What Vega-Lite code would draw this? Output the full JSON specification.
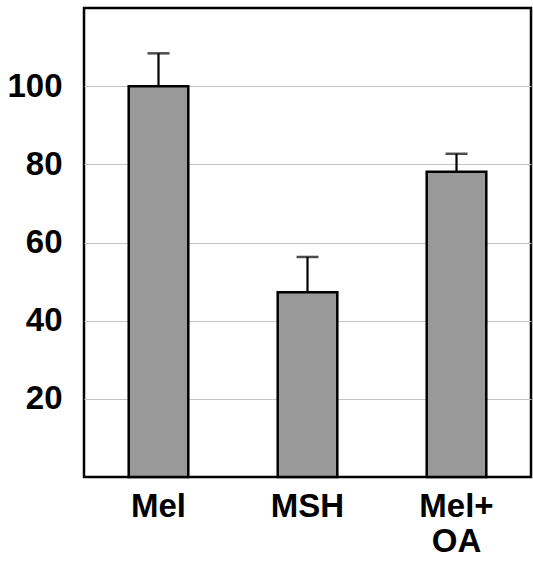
{
  "$schema": "https://vega.github.io/schema/vega-lite/v6.json",
  "width": 447,
  "height": 469,
  "autosize": {"type": "none"},
  "padding": {"left": 84, "top": 8, "right": 2, "bottom": 84},
  "background": "white",
  "config": {
    "view": {"stroke": "black", "strokeWidth": 2.5},
    "font": "Liberation Sans"
  },
  "data": {
    "values": [
      {"group": "Mel", "value": 100, "upper": 108.4},
      {"group": "MSH", "value": 47.3, "upper": 56.3},
      {"group": "Mel+ OA", "value": 78.1, "upper": 82.7}
    ]
  },
  "encoding": {
    "x": {
      "field": "group",
      "type": "nominal",
      "sort": null,
      "scale": {"paddingInner": 0.6, "paddingOuter": 0.3},
      "axis": {
        "title": null,
        "labelAngle": 0,
        "domain": false,
        "ticks": false,
        "labelFont": "Liberation Sans",
        "labelFontWeight": "bold",
        "labelFontSize": 33,
        "labelColor": "black",
        "labelPadding": 13,
        "labelLineHeight": 35,
        "labelExpr": "split(datum.value, ' ')"
      }
    }
  },
  "layer": [
    {
      "mark": {"type": "rule", "color": "black", "strokeWidth": 2.2},
      "encoding": {
        "y": {"field": "value", "type": "quantitative"},
        "y2": {"field": "upper"}
      }
    },
    {
      "mark": {"type": "tick", "color": "black", "thickness": 2.5, "size": 22},
      "encoding": {
        "y": {"field": "upper", "type": "quantitative"}
      }
    },
    {
      "mark": {"type": "bar", "fill": "#999999", "stroke": "black", "strokeWidth": 2.5},
      "encoding": {
        "y": {
          "field": "value",
          "type": "quantitative",
          "scale": {"domain": [0, 120], "nice": false},
          "axis": {
            "title": null,
            "values": [20, 40, 60, 80, 100],
            "domain": false,
            "ticks": false,
            "grid": true,
            "gridColor": "#c4c4c4",
            "gridWidth": 1.2,
            "labelFont": "Liberation Sans",
            "labelFontWeight": "bold",
            "labelFontSize": 33,
            "labelColor": "black",
            "labelPadding": 22
          }
        }
      }
    }
  ]
}
